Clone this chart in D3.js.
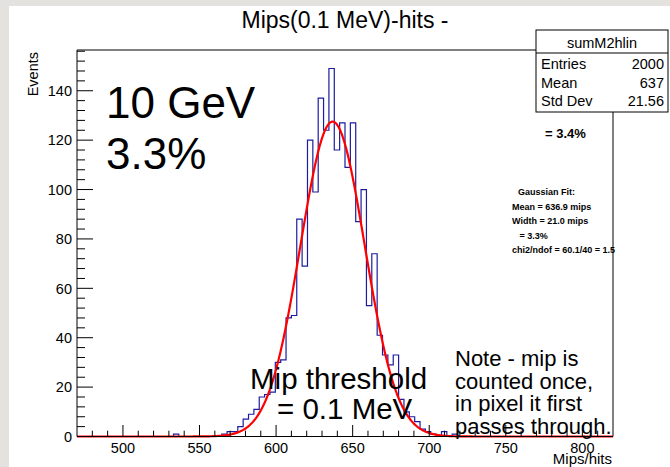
<!DOCTYPE html>
<html><head><meta charset="utf-8">
<script src="https://cdn.jsdelivr.net/npm/d3@7"></script>
<style>body{margin:0;background:#fff;} svg{display:block;font-family:"Liberation Sans",Arial,Helvetica,sans-serif;}</style>
</head><body>
<script>
// ---- data ----
const binWidth = 3.5;
const binLow = [564.5,568,571.5,575,578.5,582,585.5,589,592.5,596,599.5,603,606.5,610,613.5,617,620.5,624,627.5,631,634.5,638,641.5,645,648.5,652,655.5,659,662.5,666,669.5,673,676.5,680,683.5,687,690.5,694,697.5,701,704.5,708,711.5,715];
const binCount = [1,2,2,4,7,9,11,16,17,18,30,31,48,49,88,69,120,99,137,124,149,116,127,109,127,87,100,53,74,41,33,29,33,15,10,8,6,3,2,1,0,2,0,1];
const loneBinLow = [533];
const loneBinCount = [1];
const xTicks = [500,550,600,650,700,750,800];
const yTicks = [0,20,40,60,80,100,120,140];
const fitMean = 636.9, fitSigma = 21.0, fitAmp = 127.5;
const statsRows = [["Entries","2000"],["Mean","637"],["Std Dev","21.56"]];
const fitLines = ["Gaussian Fit:","Mean = 636.9 mips","Width = 21.0 mips","   = 3.3%","chi2/ndof = 60.1/40 = 1.5"];
const noteLines = ["Note - mip is","counted once,","in pixel it first","passes through."];

const W = 670, H = 467;
const L = 77, R = 613, T = 50, B = 436.5;
const x = d3.scaleLinear().domain([470, 820]).range([L, R]);
const y = d3.scaleLinear().domain([0, 156.5]).range([B, T]);

const svg = d3.select("body").append("svg").attr("width", W).attr("height", H);
svg.append("rect").attr("width", W).attr("height", H).attr("fill", "#e4e2de");
svg.append("rect").attr("x", 9).attr("y", 6).attr("width", W - 9).attr("height", H - 6).attr("fill", "#fff");

// frame
svg.append("path").attr("d", `M${L},${T}H${R}V${B}`).attr("fill", "none").attr("stroke", "#000").attr("stroke-width", 1);

// histogram step path
function stepPath(lows, counts) {
  const p = d3.path();
  p.moveTo(x(lows[0]), y(0));
  lows.forEach((lo, i) => {
    p.lineTo(x(lo), y(counts[i]));
    p.lineTo(x(lo + binWidth), y(counts[i]));
  });
  p.lineTo(x(lows[lows.length - 1] + binWidth), y(0));
  return p.toString();
}
const histG = svg.append("g").attr("fill", "none").attr("stroke", "#1c1ca0").attr("stroke-width", 1.2);
histG.append("path").attr("d", stepPath(binLow, binCount));
histG.append("path").attr("d", stepPath(loneBinLow, loneBinCount));

// fit curve
const fitX = d3.range(470, 820.01, 0.5);
const line = d3.line().x(d => x(d)).y(d => y(fitAmp * Math.exp(-0.5 * Math.pow((d - fitMean) / fitSigma, 2))));
svg.append("path").datum(fitX).attr("d", line).attr("fill", "none").attr("stroke", "#f00").attr("stroke-width", 2.2);

// axes (ROOT style, ticks inside)
const ax = svg.append("g").attr("stroke", "#000").attr("stroke-width", 1);
ax.append("line").attr("x1", L).attr("x2", R).attr("y1", B).attr("y2", B);
ax.append("line").attr("x1", L).attr("x2", L).attr("y1", T).attr("y2", B);
d3.range(480, 820, 10).forEach(v => {
  const major = v % 50 === 0;
  ax.append("line").attr("x1", x(v)).attr("x2", x(v)).attr("y1", B).attr("y2", B - (major ? 11.5 : 5.8));
});
d3.range(0, 157, 4).forEach(v => {
  const major = v % 20 === 0;
  ax.append("line").attr("x1", L).attr("x2", L + (major ? 16 : 8)).attr("y1", y(v)).attr("y2", y(v));
});
svg.append("g").selectAll("text").data(xTicks).join("text")
  .attr("x", d => x(d)).attr("y", 453).attr("text-anchor", "middle").attr("font-size", 14.5).text(d => d);
svg.append("g").selectAll("text").data(yTicks).join("text")
  .attr("x", 72).attr("y", d => y(d) + 5.2).attr("text-anchor", "end").attr("font-size", 14.5).text(d => d);
svg.append("text").attr("transform", "translate(38,52) rotate(-90)").attr("text-anchor", "end").attr("font-size", 14.5).text("Events");
svg.append("text").attr("x", 612).attr("y", 464).attr("text-anchor", "end").attr("font-size", 15).text("Mips/hits");

// title
svg.append("text").attr("x", 345).attr("y", 28).attr("text-anchor", "middle").attr("font-size", 23).text("Mips(0.1 MeV)-hits -");

// stats box
const sx = 536, sy = 30, sw = 132, sh = 82;
svg.append("rect").attr("x", sx).attr("y", sy).attr("width", sw).attr("height", sh).attr("fill", "#fff").attr("stroke", "#000");
svg.append("line").attr("x1", sx).attr("x2", sx + sw).attr("y1", 53).attr("y2", 53).attr("stroke", "#000");
svg.append("text").attr("x", sx + sw / 2).attr("y", 48).attr("text-anchor", "middle").attr("font-size", 14.5).text("sumM2hlin");
statsRows.forEach((r, i) => {
  const by = 69 + i * 18.5;
  svg.append("text").attr("x", sx + 5).attr("y", by).attr("font-size", 14.5).text(r[0]);
  svg.append("text").attr("x", sx + sw - 4).attr("y", by).attr("text-anchor", "end").attr("font-size", 14.5).text(r[1]);
});

// annotations
svg.append("text").attr("x", 106).attr("y", 118).attr("font-size", 44).text("10 GeV");
svg.append("text").attr("x", 106).attr("y", 169).attr("font-size", 44).text("3.3%");
svg.append("text").attr("x", 545).attr("y", 138).attr("font-size", 13).attr("font-weight", "bold").text("= 3.4%");
fitLines.forEach((t, i) => {
  svg.append("text").attr("x", i === 0 ? 518 : 512).attr("y", 195 + i * 14.5).attr("font-size", 9).attr("font-weight", "bold")
    .attr("xml:space", "preserve").style("white-space", "pre").text(t);
});
svg.append("text").attr("x", 250).attr("y", 389).attr("font-size", 29.5).text("Mip threshold");
svg.append("text").attr("x", 277).attr("y", 419).attr("font-size", 29.5).text("= 0.1 MeV");
noteLines.forEach((t, i) => {
  svg.append("text").attr("x", 455).attr("y", 366 + i * 22.5).attr("font-size", 22).text(t);
});
</script>
</body></html>
